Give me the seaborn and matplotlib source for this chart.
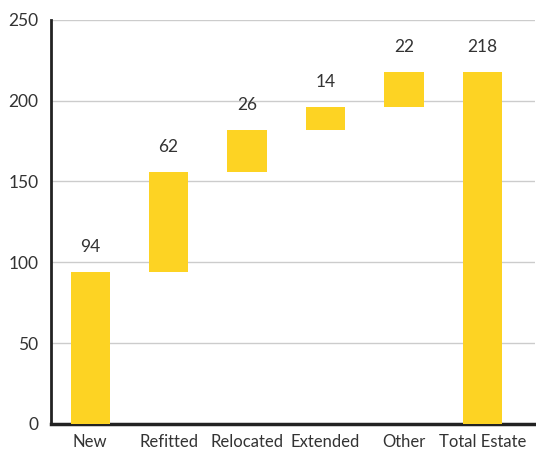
import matplotlib
matplotlib.use("Agg")
import matplotlib.pyplot as plt
import seaborn as sns
import pandas as pd

categories = ["New", "Refitted", "Relocated", "Extended", "Other", "Total Estate"]
changes = [94, 62, 26, 14, 22, 218]
is_total = [False, False, False, False, False, True]
yticks = [0, 50, 100, 150, 200, 250]

# running base for each floating bar of the waterfall
bases = []
running = 0
for v, tot in zip(changes, is_total):
    if tot:
        bases.append(0)
    else:
        bases.append(running)
        running += v

df = pd.DataFrame({"category": categories, "change": changes, "base": bases})

sns.set_style("white")
plt.rcParams["font.family"] = ["Lato", "DejaVu Sans"]

fig = plt.figure(figsize=(5.36, 4.5), dpi=100)
ax = fig.add_axes([0.095, 0.058, 0.903, 0.898])

sns.barplot(data=df, x="category", y="change", color="#FDD323", saturation=1,
            width=0.5, linewidth=0, ax=ax, zorder=3)

# lift each bar onto its running base
for patch, base in zip(ax.patches, df["base"]):
    patch.set_y(base)

for i, (v, b) in enumerate(zip(df["change"], df["base"])):
    ax.annotate(f"{v}", xy=(i, b + v), xytext=(0, 12), textcoords="offset points",
                ha="center", va="bottom", fontsize=12.5, color="#333333")

ax.set_ylim(0, 250)
ax.set_xlim(-0.5, 5.67)
ax.set_yticks(yticks)
ax.yaxis.grid(True, color="#cccccc", linewidth=1, zorder=0)
ax.set_axisbelow(True)
ax.set_xlabel("")
ax.set_ylabel("")
ax.tick_params(axis="both", length=0, labelcolor="#333333")
ax.tick_params(axis="y", pad=9, labelsize=12.5)
ax.tick_params(axis="x", pad=7, labelsize=12)

for side in ["top", "right"]:
    ax.spines[side].set_visible(False)
ax.spines["left"].set_color("#222222")
ax.spines["left"].set_linewidth(2)
ax.spines["bottom"].set_color("#222222")
ax.spines["bottom"].set_linewidth(2.5)

fig.savefig("out.png", dpi=100, facecolor="white")
